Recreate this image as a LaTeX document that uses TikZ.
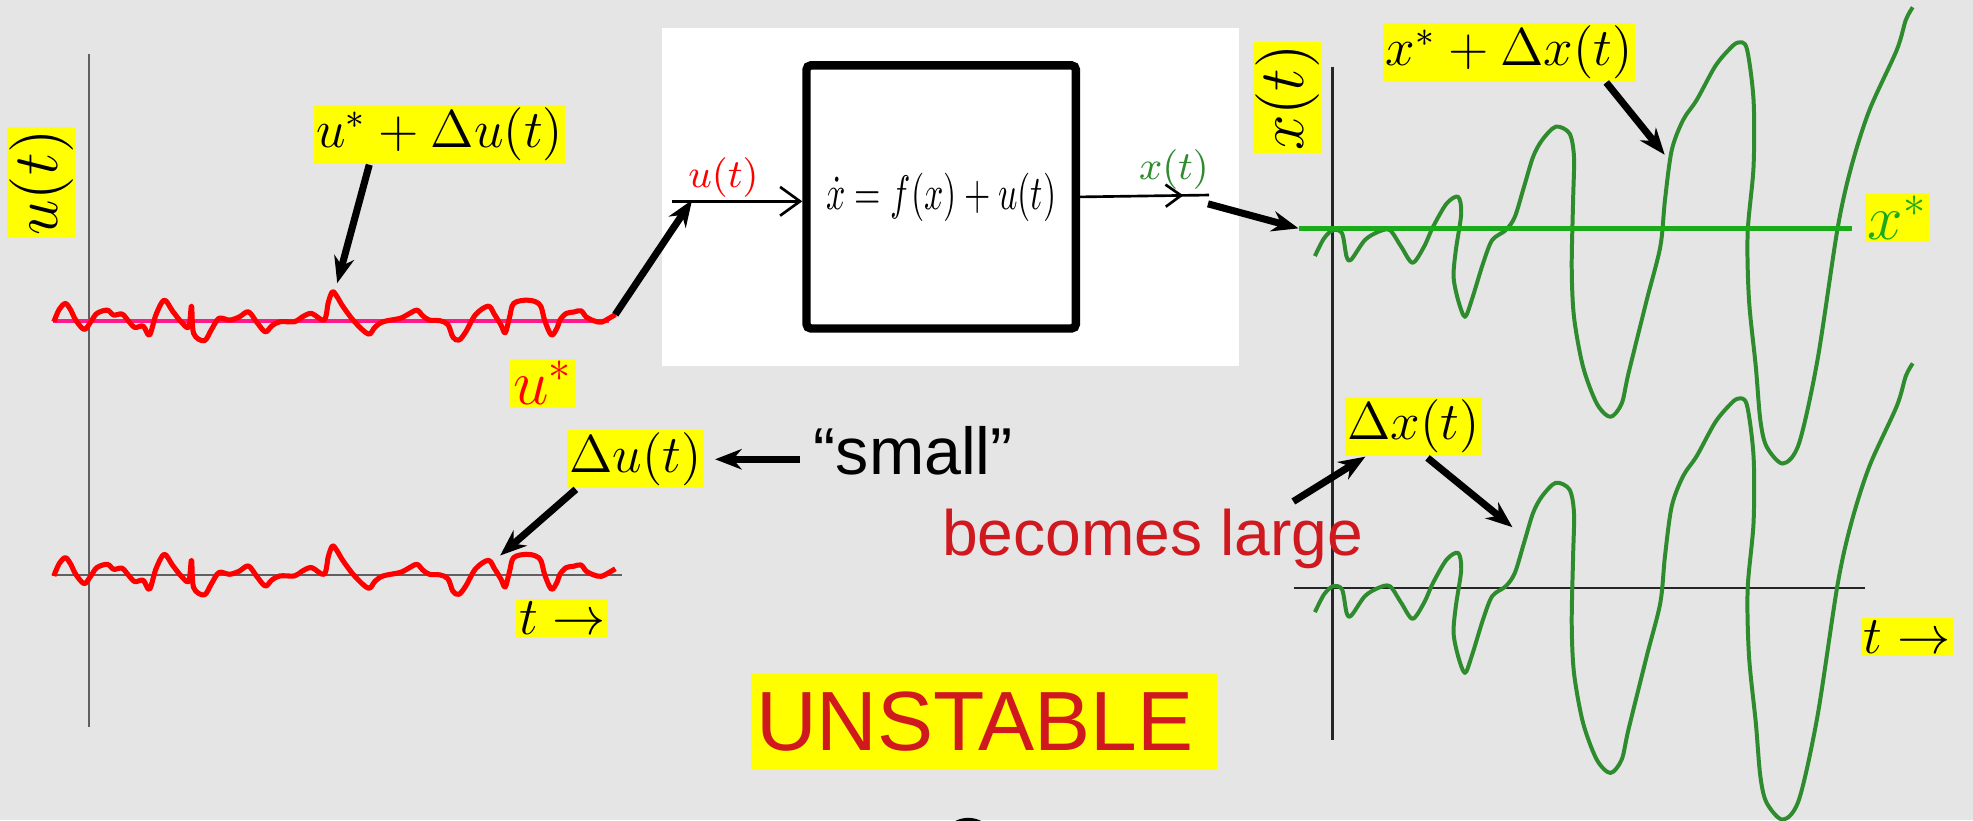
\documentclass[tikz,border=0pt]{standalone}
\usepackage{amsmath,amssymb}
\usepackage{graphicx}
\usepackage{fontspec}
\setsansfont{Liberation Sans}
\usepackage{tikz}
\usetikzlibrary{arrows.meta,positioning,calc,decorations.markings}
\usepackage{xcolor}

\definecolor{slidegray}{HTML}{E5E5E5}
\definecolor{hilite}{HTML}{FFFF00}
\definecolor{sigred}{HTML}{FF0000}
\definecolor{eqpink}{HTML}{FF1A8C}
\definecolor{txtred}{HTML}{D0191F}
\definecolor{curvegreen}{HTML}{2E8B2E}
\definecolor{eqgreen}{HTML}{1AAA1A}
\definecolor{axisgray}{HTML}{606060}

\begin{document}
\begin{tikzpicture}[x=0.01cm, y=-0.01cm,
    hl/.style={fill=hilite, inner sep=0.6pt},
    mathbig/.style={hl, font=\fontsize{12}{14}\selectfont},
    mathhuge/.style={hl, font=\fontsize{14}{16}\selectfont},
    callout/.style={line width=1.6pt, -{Stealth[length=6pt,width=4.6pt]}},
    wire/.style={line width=0.6pt},
    axis/.style={axisgray, line width=0.5pt},
    noiseline/.style={sigred, line width=1.15pt, line join=round},
    growline/.style={curvegreen, line width=0.9pt, line join=round}]
  \useasboundingbox (0,0) rectangle (1568,652);
  \clip (0,0) rectangle (1568,652);
  \fill[slidegray] (0,0) rectangle (1568,652);

  % The input signal u(t)
  \draw[axis] (71,43) -- (71,578);
  \draw[axis] (41,457) -- (494,457);
  \node[mathhuge, rotate=90] (ulbl) at (33,145) {$u(t)$};
  \draw[eqpink, line width=1pt] (42,255) -- (484,255);
  \foreach \dy in {0,202} {
    \draw[noiseline, shift={(0,\dy)}] plot[smooth, tension=0.55] coordinates {
      (42.8,255.7) (47,246) (51.9,241.2) (56,246) (60.2,254.4) (66.9,261.8)
      (72,256) (77,249.1) (85.3,246.5) (90.3,250.4) (97,249.6) (102,255)
      (107.1,260.2) (113.8,259.2) (118.8,266.3) (124,250) (130.5,238.5)
      (137,247) (143.9,255.7) (150,260) (152.2,243.3) (153.9,265)
      (162.3,270.8) (168,262) (174,253) (182.4,254.4) (190,252) (197.4,247.8)
      (204,256) (210.8,263.7) (216,259) (222.5,255.7) (234.2,255.7) (240,252)
      (247.6,249.1) (257.6,254.4) (261,240) (264.3,231.9) (268,236)
      (272.7,243.8) (282,256) (292.8,265.5) (298,260) (304.5,255.7)
      (317.9,253) (324,250) (331.3,246.5) (336,251) (341.3,254.4)
      (349.7,254.9) (356,258) (360,268) (364.7,270.3) (370,264) (378,250)
      (388.1,243.3) (393,250) (398.2,258.4) (401.5,264.5) (405,252)
      (408.2,241.2) (418.3,238.5) (426,240) (430,243.8) (433,255)
      (438.3,266.3) (443,260) (445,254.4) (450,249.1) (456,248) (461.7,247)
      (466,252) (471.8,254.9) (478,256) (485.2,252.3) (489,250)};
  }
  \node[mathbig] (ustarlbl) at (349.5,107) {$u^* + \Delta u(t)$};
  \node[mathhuge, text=sigred] (ustarval) at (431.5,304.5) {$u^*$};
  \node[mathbig] (dulbl) at (505,365) {$\Delta u(t)$};
  \node[mathbig] (tlblL) at (447,491) {$t \rightarrow$};
  \node[font=\sffamily\fontsize{15}{18}\selectfont, inner sep=0pt, anchor=base west]
    (small) at (646,377.5) {“small”};
  \coordinate (upeak) at (268,225);
  \coordinate (uend) at (489,250);
  \coordinate (dutip) at (397.5,441.5);
  \draw[callout] ([xshift=-0.56cm]ustarlbl.south) -- (upeak);
  \draw[callout] ($(small.west |- dulbl)+(-10,0)$) -- ($(dulbl.east)+(8,0)$);
  \draw[callout] ($(dulbl.south west)+(8,0)$) -- (dutip);

  % The plant
  \fill[white] (526,22.5) rectangle (985,291);
  \node[draw, line width=1.9pt, rounded corners=1pt, minimum width=2.14cm,
    minimum height=2.09cm, font=\fontsize{11}{13}\selectfont] (plant) at (748,156.5)
    {\scalebox{0.7}[1]{$\dot{x}=f(x)+u(t)$}};
  \coordinate (inL) at (534,160);
  \coordinate (inTip) at (550,159);
  \coordinate (outR) at (961,155);
  \coordinate (xarrS) at (960,162);
  \draw[wire, -{Straight Barb[length=4.5pt,width=6.5pt]}] (inL) -- (inL -| plant.west);
  \draw[wire, postaction={decorate, decoration={markings,
      mark=at position 0.8 with {\arrow{Straight Barb[length=3.5pt,width=5pt]}}}}]
    (plant.east) -- (outR);
  \node[text=sigred, font=\fontsize{9.5}{11}\selectfont] (uin) at (575,141) {$u(t)$};
  \node[text=curvegreen, font=\fontsize{9.5}{11}\selectfont] (xout) at (933,135) {$x(t)$};
  \draw[callout] (uend) -- (inTip);

  % The state x(t)
  \coordinate (xsL) at (1032,181.5);
  \coordinate (xsR) at (1472,181.5);
  \draw[callout] (xarrS) -- (xsL);
  \draw[axis, black!85] (1059,53) -- (1059,588);
  \draw[axis, black!85] (1028,467) -- (1482,467);
  \node[mathhuge, rotate=90] (xlbl) at (1023,77.5) {$x(t)$};
  \foreach \dy in {0,283} {
    \draw[growline, shift={(0,\dy)}] plot[smooth, tension=0.5] coordinates {
      (1045,203.5) (1052.2,189.5) (1059.4,182.9) (1066.6,185.5) (1070.2,204.1)
      (1073.9,206.2) (1084.7,190.8) (1095.5,184.2) (1104.6,182.9)
      (1113.6,196.1) (1122.6,208.8) (1131.7,196.1) (1138.9,180.2)
      (1149.7,161.7) (1158.8,156.4) (1161.3,169.6) (1157,198.8) (1155.2,220)
      (1158.8,238.5) (1164.2,251.8) (1169.6,238.5) (1178.6,209.4)
      (1185.9,190.8) (1196.7,182.9) (1203.9,172.3) (1211.2,148.4)
      (1218.4,124.6) (1225.6,111.3) (1236.4,100.7) (1247.3,106)
      (1250.9,124.6) (1250.2,159) (1249.1,212) (1250.9,251.8) (1258.1,291.5)
      (1269,320.7) (1279.8,331.3) (1288.8,320.7) (1294.2,296.8)
      (1308.7,238.5) (1319.5,196.1) (1323.2,159) (1328.6,119.3) (1337.6,95.4)
      (1348.4,79.5) (1362.9,53) (1373.7,39.8) (1381,33.9) (1388.2,38.4)
      (1393.6,79.5) (1393.6,132.5) (1388.9,185.5) (1390,238.5) (1395.4,291.5)
      (1399,333.9) (1404,355) (1416.9,368.4) (1429.7,352.5) (1444.4,286.2)
      (1460.4,181.5) (1471.3,132.5) (1485.7,87.5) (1507.4,39.8)
      (1514.6,15.9) (1520.1,5.8)};
  }
  \draw[eqgreen, line width=1pt] (xsL) -- (xsR);
  \node[mathhuge, text=eqgreen] (xstarval) at (1508,173) {$x^*$};
  \node[mathbig] (xstarlbl) at (1199.5,41.6) {$x^* + \Delta x(t)$};
  \node[mathbig] (dxlbl) at (1123.5,339) {$\Delta x(t)$};
  \node[mathbig] (tlblR) at (1515.4,506.4) {$t \rightarrow$};
  \node[text=txtred, font=\sffamily\fontsize{14.5}{17}\selectfont, inner sep=0pt,
    anchor=base west] (large) at (748,441.2) {becomes large};
  \coordinate (xpeak) at (1323,123);
  \coordinate (dxtip) at (1202,419);
  \draw[callout] ([xshift=0.77cm]xstarlbl.south) -- (xpeak);
  \draw[callout] ($(large.north east)+(-56,-5)$) -- (dxlbl);
  \draw[callout] ($(dxlbl.south)+(11,1)$) -- (dxtip);

  % Verdict
  \node[fill=hilite, text=txtred, font=\sffamily\fontsize{19}{22}\selectfont,
    text width=3.62cm, inner xsep=0.04cm, minimum height=0.765cm, align=left]
    (unst) at (782,573.4) {UNSTABLE};
  \fill[black] (769.5,676) ellipse [x radius=0.24cm, y radius=0.26cm];
\end{tikzpicture}
\end{document}
